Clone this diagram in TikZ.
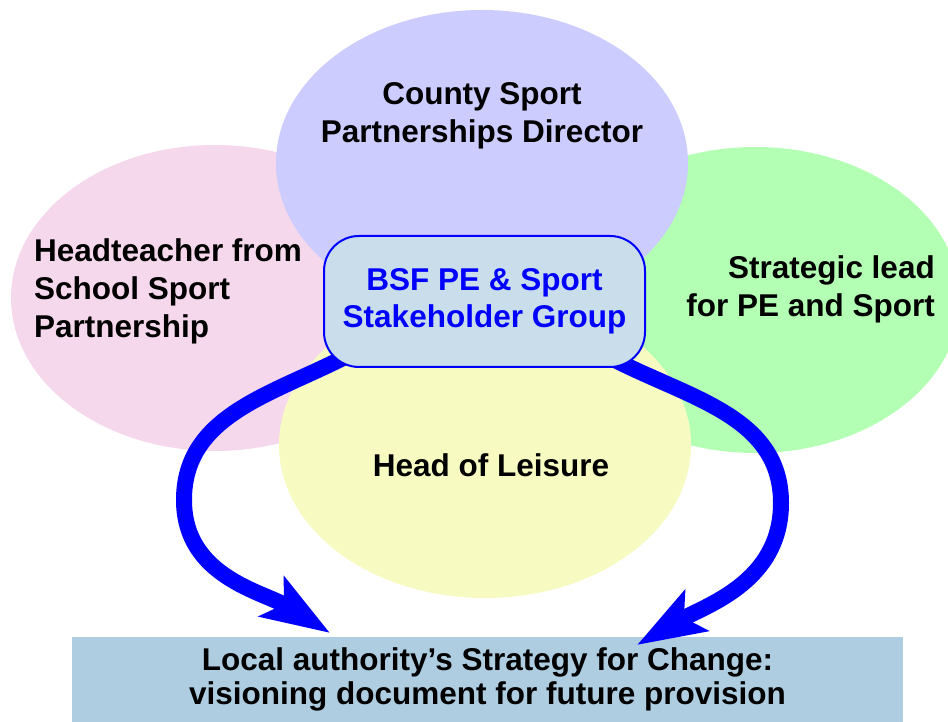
\documentclass[tikz,border=0pt]{standalone}
\usepackage{fontspec}
\setmainfont{Liberation Sans}
\usetikzlibrary{arrows.meta}
\definecolor{pinkc}{HTML}{F5D8EC}
\definecolor{lavc}{HTML}{CCCCFF}
\definecolor{greenc}{HTML}{B3FFB3}
\definecolor{yellowc}{HTML}{F7FBC2}
\definecolor{hubfill}{HTML}{C9DDEB}
\definecolor{docfill}{HTML}{AECDE0}
\definecolor{arrowblue}{HTML}{0000FF}
\begin{document}
\begin{tikzpicture}[x=1pt,y=1pt,
  lbl/.style={font=\bfseries\fontsize{31.5}{38}\selectfont, inner sep=0pt, text=black},
  hubbox/.style={draw=arrowblue, line width=2pt, fill=hubfill, rounded corners=35pt,
    minimum width=321pt, minimum height=131pt, inner sep=0pt, align=center,
    text=arrowblue, font=\bfseries\fontsize{31.5}{37}\selectfont},
  docbox/.style={fill=docfill, minimum width=831pt, minimum height=85pt, inner sep=0pt,
    align=center, font=\bfseries\fontsize{31.5}{34.5}\selectfont},
  bigarrow/.style={draw=arrowblue, line width=16pt,
    -{Stealth[length=68pt,width=46pt,inset=14pt]}}
]
\useasboundingbox (0,0) rectangle (948,722);
% ellipses
\fill[pinkc] (215,424) ellipse [x radius=204, y radius=153];
\fill[greenc] (755,422) ellipse [x radius=205, y radius=153];
\fill[lavc] (482,559) ellipse [x radius=206, y radius=153];
\fill[yellowc] (485,277) ellipse [x radius=206, y radius=153];
% bottom box
\node[docbox] (doc) at (487.5,42.5) {Local authority’s Strategy for Change:\\visioning document for future provision};
% arrows
\coordinate (l0) at (345,365);
\coordinate (l1) at (184,222);
\coordinate (l2) at (330,89);
\coordinate (r0) at (615,362);
\coordinate (r1) at (781,219);
\coordinate (r2) at (637,77);
\draw[bigarrow] (l0) to[out=207,in=90] (l1) to[out=-90,in=148] (l2);
\draw[bigarrow] (r0) to[out=-27,in=90] (r1) to[out=-90,in=30] (r2);
% hub
\node[hubbox] (hub) at (484.5,420.5) {BSF PE \& Sport\\Stakeholder Group};
% labels
\node[lbl, align=center] (county) at (482,606.5) {County Sport\\Partnerships Director};
\node[lbl, align=left, anchor=west] (head) at (34,430.5) {Headteacher from\\School Sport\\Partnership};
\node[lbl, align=right, anchor=east] (strat) at (935,433) {Strategic lead\\for PE and Sport};
\node[lbl] (leisure) at (491,257) {Head of Leisure};
\end{tikzpicture}
\end{document}
